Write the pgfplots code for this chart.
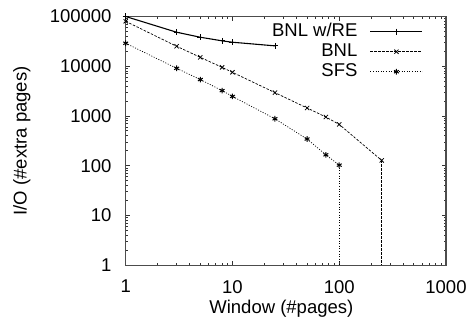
\documentclass[border=0pt]{standalone}
\usepackage{fontspec}
\setmainfont{Liberation Sans}
\usepackage{pgfplots}
\pgfplotsset{compat=1.18}
\begin{document}
\fontsize{18.5}{21}\selectfont
\begin{tikzpicture}
\begin{axis}[
  at={(0,0)}, anchor=south west,
  scale only axis,
  width=320.3pt, height=248.8pt,
  xmode=log, ymode=log,
  xmin=1, xmax=1000, ymin=1, ymax=100000,
  xtick={1,10,100,1000}, xticklabels={1,10,100,1000},
  ytick={1,10,100,1000,10000,100000},
  yticklabels={1,10,100,1000,10000,100000},
  /pgf/number format/assume math mode=true,
  separate axis lines,
  axis line style={black!70, line width=1.3pt},
  every tick/.style={black!80, line width=1pt},
  major tick length=4.5pt, minor tick length=2.5pt,
  tick align=inside,
  xticklabel style={yshift=-8.5pt},
  yticklabel style={xshift=-7.8pt},
  xlabel={Window (\#pages)},
  ylabel={I/O (\#extra pages)},
  xlabel style={at={(axis description cs:0.5,0)}, anchor=base, yshift=-47.7pt, xshift=-4.5pt},
  ylabel style={at={(axis description cs:0,0.5)}, anchor=base, yshift=99pt},
  clip=false,
  legend plot pos=right,
  legend cell align=right,
  legend style={draw=none, fill=none, at={(297.5pt,243.8pt)}, anchor=north east,
    row sep=0pt, column sep=11pt, inner sep=0pt,
    nodes={inner sep=1.5pt, text height=13pt, text depth=4pt}},
  legend image code/.code={%
    \draw[#1, mark repeat=2, mark phase=2] plot coordinates {(0pt,0pt) (26pt,0pt) (52pt,0pt)};},
]
% BNL with RE
\addplot[black, line width=1.1pt, mark=+, mark size=3pt, mark options={solid, line width=0.8pt}]
  coordinates {(1,100000) (3,48300) (5,38300) (8,32400) (10,30400) (25,25700)};
\addlegendentry{BNL w/RE}
% BNL
\addplot[black, line width=0.7pt, dash pattern=on 2.5pt off 1.5pt, mark=x, mark size=3pt, mark options={solid, line width=0.8pt}]
  coordinates {(1,80000) (3,25200) (5,15100) (8,9500) (10,7550) (25,2950) (50,1450) (75,955) (100,678) (250,128)};
\addlegendentry{BNL}
% SFS
\addplot[black, line width=0.7pt, dash pattern=on 1pt off 1.6pt, mark=asterisk, mark size=2.8pt, mark options={solid, line width=1pt}]
  coordinates {(1,29000) (3,9100) (5,5400) (8,3240) (10,2480) (25,880) (50,345) (75,166) (100,103)};
\addlegendentry{SFS}
% drops to zero at the last window of each series
\addplot[forget plot, black, line width=0.7pt, dash pattern=on 2.5pt off 1.5pt]
  coordinates {(250,128) (250,1)};
\addplot[forget plot, black, line width=0.7pt, dash pattern=on 1pt off 1.6pt]
  coordinates {(100,103) (100,1)};
% frame
\draw[black!70, line width=1.3pt] (rel axis cs:0,0) rectangle (rel axis cs:1,1);
\end{axis}
\pgfresetboundingbox
\path[use as bounding box] (-125.7pt,-59.7pt) rectangle (341.3pt,265.3pt);
\end{tikzpicture}
\end{document}
